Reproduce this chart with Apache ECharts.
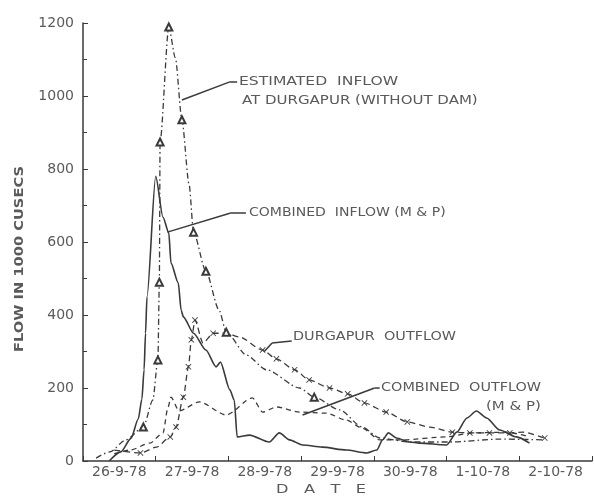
<!DOCTYPE html>
<html>
<head>
<meta charset="utf-8">
<script src="https://cdn.jsdelivr.net/npm/echarts@6/dist/echarts.min.js"></script>
<style>
  html, body { margin: 0; padding: 0; background: #fff; }
  #chartmain { width: 594px; height: 498px; }
</style>
</head>
<body>
<div id="chartmain"></div>
<script>
// date labels (one per day, label sits between day ticks)
var dates = ['26-9-78', '27-9-78', '28-9-78', '29-9-78', '30-9-78', '1-10-78', '2-10-78'];
var yTicks = [0, 200, 400, 600, 800, 1000, 1200];

// [day since 26-9-78 0h, flow in 1000 cusecs]
var estInflow = [
    [0.18, 8], [0.37, 25], [0.59, 58], [0.83, 93], [0.96, 167], [1.03, 277],
    [1.05, 490], [1.06, 874], [1.18, 1189], [1.27, 1105], [1.36, 935], [1.46, 756],
    [1.52, 627], [1.69, 520], [1.87, 414], [1.97, 353], [2.25, 290], [2.52, 250],
    [2.98, 200], [3.18, 175], [3.53, 140], [3.84, 93], [4.08, 63], [4.49, 52],
    [5.04, 52], [5.73, 60], [6.35, 58]
];
var estMarks = [3, 5, 6, 7, 8, 10, 12, 13, 15, 19];

var combInflow = [
    [0.36, 0], [0.52, 25], [0.66, 62], [0.76, 115], [0.81, 170], [0.84, 250],
    [0.86, 350], [0.88, 450], [1.0, 780], [1.10, 668], [1.18, 625], [1.21, 542],
    [1.31, 488], [1.35, 413], [1.38, 395], [1.52, 350], [1.69, 304], [1.83, 258],
    [1.89, 271], [2.02, 195], [2.08, 167], [2.12, 66], [2.29, 71], [2.56, 52],
    [2.70, 77], [2.84, 58], [3.02, 44], [3.29, 38], [3.62, 30], [3.90, 22],
    [4.04, 30], [4.12, 58], [4.20, 77], [4.31, 63], [4.49, 52], [4.63, 49],
    [5.00, 44], [5.14, 79], [5.28, 118], [5.41, 137], [5.55, 118], [5.73, 85],
    [5.96, 66], [6.14, 49]
];

var durgOutflow = [
    [0.43, 30], [0.79, 22], [1.01, 38], [1.20, 66], [1.28, 93], [1.38, 175],
    [1.45, 258], [1.49, 332], [1.54, 386], [1.65, 323], [1.79, 350], [1.97, 350],
    [2.15, 340], [2.47, 304], [2.66, 280], [2.91, 250], [3.11, 222], [3.39, 200],
    [3.64, 184], [3.87, 159], [4.17, 134], [4.46, 107], [4.77, 93], [5.08, 79],
    [5.32, 77], [5.59, 77], [5.87, 77], [6.05, 79], [6.35, 63]
];
var durgMarks = [1, 3, 4, 5, 6, 7, 8, 10, 13, 14, 15, 16, 17, 18, 19, 20, 21, 23, 24, 25, 26, 28];

var combOutflow = [
    [0.43, 20], [0.65, 30], [0.92, 49], [1.10, 77], [1.17, 148], [1.21, 175],
    [1.32, 137], [1.60, 162], [1.97, 126], [2.33, 173], [2.47, 134], [2.66, 148],
    [2.98, 134], [3.35, 131], [3.62, 112], [3.84, 90], [4.08, 58], [4.39, 58],
    [4.99, 66], [5.36, 77], [5.83, 79], [6.14, 66]
];

// leader lines from the notes to the curves
var estPointer = [[1.36, 989], [2.01, 1038], [2.12, 1038]];
var combInPointer = [[1.16, 627], [2.02, 679], [2.24, 679]];
var durgPointer = [[2.49, 299], [2.60, 323], [2.87, 329]];
var combOutPointer = [[3.02, 126], [4.01, 200], [4.08, 200]];

var ink = '#3a3a3a';
var txt = '#5a5a5a';
var font = 'DejaVu Sans';

var chart = echarts.init(document.getElementById('chartmain'));

function marked(data, marks, symbol) {
    return data.map(function (p, i) {
        return { value: p, symbol: marks.indexOf(i) >= 0 ? symbol : 'none' };
    });
}

function pointer(pts) {
    var out = [];
    for (var i = 0; i < pts.length - 1; i++) {
        out.push([{ coord: pts[i] }, { coord: pts[i + 1] }]);
    }
    return {
        silent: true,
        symbol: 'none',
        label: { show: false },
        lineStyle: { color: ink, width: 1.5, type: 'solid' },
        data: out
    };
}

// wide drafting-style lettering
function note(x, y, s, extra) {
    var el = {
        type: 'text', x: x, y: y, scaleX: 1.25,
        style: { text: s, fill: txt, font: '12px "' + font + '"', textVerticalAlign: 'middle' }
    };
    return Object.assign(el, extra || {});
}

var crossPath = 'path://M0,1L1,0L5,4L9,0L10,1L6,5L10,9L9,10L5,6L1,10L0,9L4,5Z';

option = {
    backgroundColor: '#fff',
    animation: false,
    grid: { left: 83, right: 2, top: 23, bottom: 37 },
    xAxis: [
        {
            type: 'value', min: 0, max: 7, show: false
        },
        {
            type: 'category',
            data: dates,
            boundaryGap: true,
            position: 'bottom',
            axisLine: { lineStyle: { color: ink, width: 1.5 } },
            axisTick: { show: true, inside: true, length: 5, lineStyle: { color: ink } },
            axisLabel: { color: txt, fontFamily: font, fontSize: 14, margin: 4 },
            splitLine: { show: false }
        }
    ],
    yAxis: {
        type: 'value',
        min: 0, max: 1200, interval: 200,
        axisLine: { show: true, lineStyle: { color: ink, width: 1.5 } },
        axisTick: { show: true, inside: true, length: 5, lineStyle: { color: ink } },
        minorTick: { show: true, splitNumber: 2, length: 4, lineStyle: { color: ink } },
        axisLabel: {
            color: txt, fontFamily: font, fontSize: 14, margin: 9,
            formatter: function (v) { return yTicks.indexOf(v) >= 0 ? String(v) : ''; }
        },
        splitLine: { show: false }
    },
    series: [
        {
            name: 'Estimated inflow at Durgapur (without dam)',
            type: 'line',
            xAxisIndex: 0,
            smooth: 0.25,
            smoothMonotone: 'x',
            symbolSize: 7,
            itemStyle: { color: ink, borderColor: ink },
            lineStyle: { color: ink, width: 1.3, type: [6, 3, 1.5, 3] },
            data: marked(estInflow, estMarks, 'emptyTriangle'),
            markLine: pointer(estPointer)
        },
        {
            name: 'Combined inflow (M & P)',
            type: 'line',
            xAxisIndex: 0,
            smooth: 0.25,
            smoothMonotone: 'x',
            symbol: 'none',
            lineStyle: { color: ink, width: 1.6, type: 'solid' },
            data: combInflow,
            markLine: pointer(combInPointer)
        },
        {
            name: 'Durgapur outflow',
            type: 'line',
            xAxisIndex: 0,
            smooth: 0.25,
            smoothMonotone: 'x',
            symbolSize: 6,
            itemStyle: { color: ink },
            lineStyle: { color: ink, width: 1.3, type: [6, 4] },
            data: marked(durgOutflow, durgMarks, crossPath),
            markLine: pointer(durgPointer)
        },
        {
            name: 'Combined outflow (M & P)',
            type: 'line',
            xAxisIndex: 0,
            smooth: 0.25,
            smoothMonotone: 'x',
            symbol: 'none',
            lineStyle: { color: ink, width: 1.3, type: [5, 4] },
            data: combOutflow,
            markLine: pointer(combOutPointer)
        }
    ],
    graphic: [
        note(239, 82, 'ESTIMATED  INFLOW', { scaleX: 1.3 }),
        note(242, 101, 'AT DURGAPUR (WITHOUT DAM)'),
        note(249, 213, 'COMBINED  INFLOW (M & P)', { scaleX: 1.17 }),
        note(293, 337, 'DURGAPUR  OUTFLOW', { scaleX: 1.2 }),
        note(381, 388, 'COMBINED  OUTFLOW', { scaleX: 1.2 }),
        note(486, 407, '(M & P)'),
        note(276, 490, 'D   A   T   E', { scaleX: 1.35 }),
        {
            type: 'text', x: 20, y: 259, rotation: Math.PI / 2, scaleX: 1.22,
            style: {
                text: 'FLOW IN 1000 CUSECS', fill: txt, font: 'bold 12px "' + font + '"',
                textAlign: 'center', textVerticalAlign: 'middle'
            }
        }
    ]
};

chart.setOption(option);
</script>
</body>
</html>
